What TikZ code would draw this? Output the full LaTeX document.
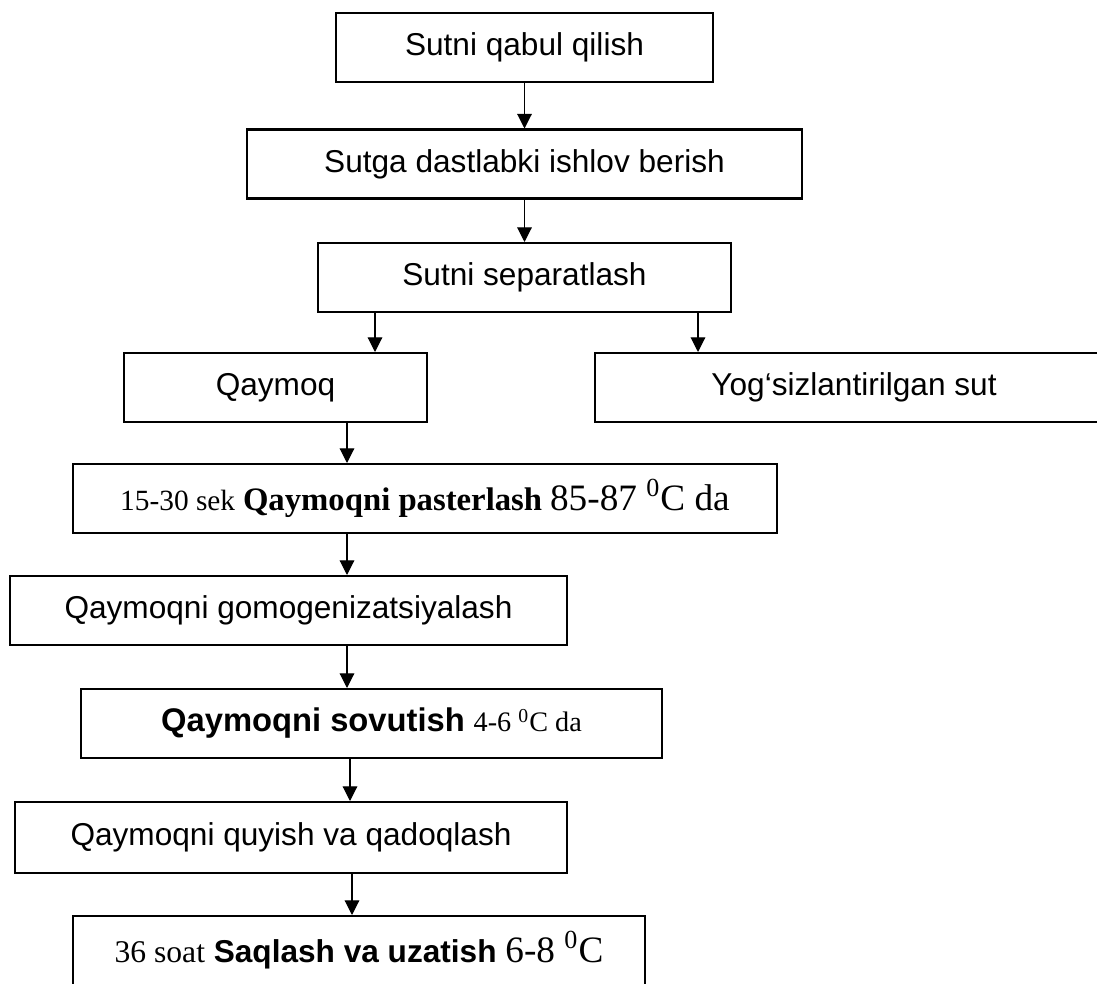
\documentclass[tikz,border=0pt]{standalone}
\usepackage{fontspec}
\setmainfont{Liberation Serif}
\setsansfont{Liberation Sans}
\usetikzlibrary{arrows.meta}

\newcommand{\pxu}{0.443pt}
\newcommand{\fsz}[1]{\fontsize{#1}{#1}\selectfont}

\tikzset{
  stepbox/.style={draw, line width=0.9pt, minimum height=69*\pxu, inner sep=0pt,
    font=\sffamily\fsz{14}},
  flow/.style={-{Triangle[length=6.5pt,width=6.5pt]}, line width=0.5pt},
}

\begin{document}
\begin{tikzpicture}[x=\pxu, y=-\pxu]
\useasboundingbox (0,0) rectangle (1097,983);

% reception and separation
\node[stepbox, minimum width=377*\pxu] (qabul) at (524.5,47.5) {Sutni qabul qilish};
\node[stepbox, minimum width=555*\pxu] (ishlov) at (524.5,164) {Sutga dastlabki ishlov berish};
\node[stepbox, minimum width=413*\pxu] (separ) at (524.5,277.5) {Sutni separatlash};
\node[stepbox, minimum width=303*\pxu] (qaymoq) at (275.5,387.5) {Qaymoq};
\node[stepbox, minimum width=518*\pxu] (yogsiz) at (854,387.5) {Yog‘sizlantirilgan sut};

% cream line
\node[stepbox, minimum width=704*\pxu] (paster) at (425,498.5)
  {\rmfamily{\fsz{13}15-30 sek} {\bfseries\fsz{14.5}Qaymoqni pasterlash} {\fsz{16.5}85-87 \textsuperscript{0}C da}};
\node[stepbox, minimum width=557*\pxu] (gomo) at (288.5,610.5) {Qaymoqni gomogenizatsiyalash};
\node[stepbox, minimum width=581*\pxu] (sovut) at (371.5,723.5)
  {{\bfseries\fsz{14.5}Qaymoqni sovutish} {\rmfamily\fsz{12.5}4-6 \textsuperscript{0}C da}};
\node[stepbox, minimum width=552*\pxu, minimum height=71*\pxu] (quyish) at (291,837.5) {Qaymoqni quyish va qadoqlash};
\node[stepbox, minimum width=572*\pxu] (saqlash) at (359,950.5)
  {{\rmfamily\fsz{14}36 soat} {\bfseries\fsz{14}Saqlash va uzatish} {\rmfamily\fsz{16.5}6-8 \textsuperscript{0}C}};

% arrow columns
\coordinate (xa) at (375,0);
\coordinate (xb) at (698,0);
\coordinate (xc) at (347,0);
\coordinate (xd) at (350,0);
\coordinate (xe) at (352,0);

\draw[flow] (qabul) -- (ishlov);
\draw[flow] (ishlov) -- (separ);
\draw[flow] (separ.south -| xa) -- (qaymoq.north -| xa);
\draw[flow] (separ.south -| xb) -- (yogsiz.north -| xb);
\draw[flow] (qaymoq.south -| xc) -- (paster.north -| xc);
\draw[flow] (paster.south -| xc) -- (gomo.north -| xc);
\draw[flow] (gomo.south -| xc) -- (sovut.north -| xc);
\draw[flow] (sovut.south -| xd) -- (quyish.north -| xd);
\draw[flow] (quyish.south -| xe) -- (saqlash.north -| xe);
\end{tikzpicture}
\end{document}
